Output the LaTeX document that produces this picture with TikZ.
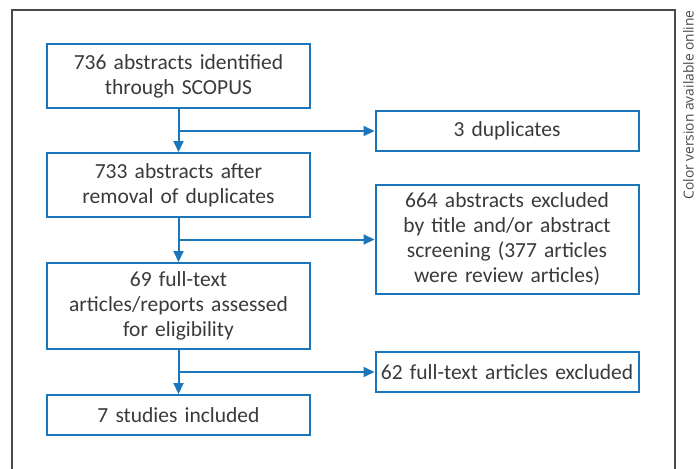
\documentclass[tikz,border=0pt]{standalone}
\usepackage{fontspec}
\setmainfont{Carlito}
\newfontfamily\sidefont{Open Sans}
\usetikzlibrary{arrows.meta,calc}
\definecolor{flowblue}{HTML}{1B75BB}
\definecolor{txtgray}{HTML}{3A3A3A}
\definecolor{framegray}{HTML}{4A4A4A}
\tikzset{
  box/.style={draw=flowblue, line width=2pt, text=txtgray, minimum width=263pt,
    text width=255pt, align=center, inner sep=0pt,
    font=\fontsize{21.5}{25}\selectfont},
  conn/.style={draw=flowblue, line width=2pt, -{Triangle[length=11pt,width=10pt]}},
}
\begin{document}
\begin{tikzpicture}[x=1pt,y=1pt]
\useasboundingbox (0,0) rectangle (697,-469);
\draw[framegray, line width=1.4pt] (12,-475) -- (12,-10) -- (675,-10) -- (675,-475);
\node[rotate=90, text=framegray, font=\sidefont\fontsize{13.8}{15}\selectfont, anchor=center] (side) at (688.5,-105) {Color version available online};
\node[box, minimum height=64pt] (b1) at (178.5,-76) {736 abstracts identified\\through SCOPUS};
\node[box, minimum height=40pt] (dup) at (507,-131) {3 duplicates};
\node[box, minimum height=64pt] (b2) at (178.5,-185) {733 abstracts after\\removal of duplicates};
\node[box, minimum height=109pt] (exc1) at (507,-239.5) {664 abstracts excluded\\by title and/or abstract\\screening (377 articles\\were review articles)};
\node[box, minimum height=86pt] (b3) at (178.5,-306) {69 full-text\\articles/reports assessed\\for eligibility};
\node[box, minimum height=40pt] (exc2) at (507,-372) {62 full-text articles excluded};
\node[box, minimum height=40pt] (b4) at (178.5,-415) {7 studies included};
\draw[conn] (b1.south) -- (b2.north);
\draw[conn] (b2.south) -- (b3.north);
\draw[conn] (b3.south) -- (b4.north);
\draw[conn] (b1.south |- dup.west) -- (dup.west);
\draw[conn] (b2.south |- exc1.west) -- (exc1.west);
\draw[conn] (b3.south |- exc2.west) -- (exc2.west);
\end{tikzpicture}
\end{document}
